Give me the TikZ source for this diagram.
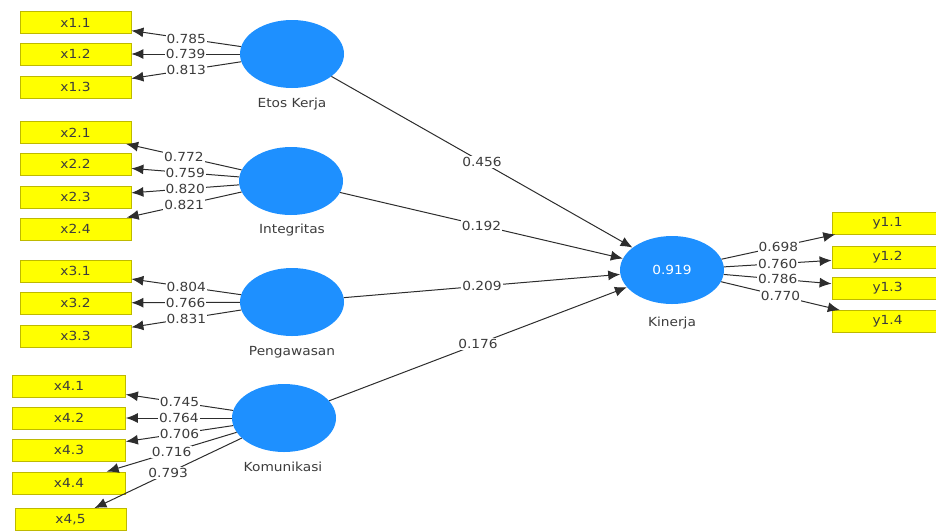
\documentclass[tikz,border=0pt]{standalone}
\usepackage{fontspec}
\setmainfont{DejaVu Sans}[FakeStretch=1.1]
\usetikzlibrary{shapes.geometric,arrows.meta}
\definecolor{lv}{RGB}{30,144,255}
\definecolor{ind}{RGB}{255,255,0}
\definecolor{indb}{RGB}{190,185,0}
\definecolor{ln}{RGB}{45,45,45}
\definecolor{tx}{RGB}{60,60,60}
\begin{document}
\begin{tikzpicture}[x=1pt,y=-1pt,
 lvar/.style={ellipse, fill=lv, draw=none, minimum width=104pt, minimum height=68pt, inner sep=0pt, text=white, font=\fontsize{12.5}{14}\selectfont},
 indic/.style={rectangle, fill=ind, draw=indb, line width=0.8pt, minimum width=111pt, minimum height=22pt, inner sep=0pt, text=tx, font=\fontsize{12.5}{14}\selectfont},
 lvlabel/.style={text=tx, font=\fontsize{12.5}{14}\selectfont},
 conn/.style={draw=ln, line width=1pt, -{Latex[length=12pt,width=10pt]}},
 coef/.style={fill=white, inner sep=1pt, text=tx, font=\fontsize{12.5}{14}\selectfont, pos=0.5}
]
\clip (0,0) rectangle (936,531);
% latent variables
\node[lvar] (EK) at (292,54) {};
\node[lvar] (IN) at (291,181) {};
\node[lvar] (PG) at (292,302) {};
\node[lvar] (KM) at (284,418) {};
\node[lvar] (KN) at (672,270) {0.919};
\node[lvlabel] (lEK) at (292,104) {Etos Kerja};
\node[lvlabel] (lIN) at (292,230) {Integritas};
\node[lvlabel] (lPG) at (292,352) {Pengawasan};
\node[lvlabel] (lKM) at (283,467) {Komunikasi};
\node[lvlabel] (lKN) at (672,323) {Kinerja};
% indicators
\node[indic] (x11) at (75.5,22.5) {x1.1};
\node[indic] (x12) at (75.5,54) {x1.2};
\node[indic] (x13) at (75.5,87) {x1.3};
\node[indic] (x21) at (75.5,132.5) {x2.1};
\node[indic] (x22) at (75.5,164) {x2.2};
\node[indic] (x23) at (75.5,197) {x2.3};
\node[indic] (x24) at (75.5,229) {x2.4};
\node[indic] (x31) at (75.5,271) {x3.1};
\node[indic] (x32) at (75.5,303) {x3.2};
\node[indic] (x33) at (75.5,336) {x3.3};
\node[indic, minimum width=113pt] (x41) at (69,386) {x4.1};
\node[indic, minimum width=113pt] (x42) at (69,418) {x4.2};
\node[indic, minimum width=113pt] (x43) at (69,450) {x4.3};
\node[indic, minimum width=113pt] (x44) at (69,483) {x4.4};
\node[indic, minimum width=111pt] (x45) at (70.5,519.5) {x4,5};
\node[indic] (y11) at (887.5,223) {y1.1};
\node[indic] (y12) at (887.5,257) {y1.2};
\node[indic] (y13) at (887.5,288.5) {y1.3};
\node[indic] (y14) at (887.5,321.5) {y1.4};
% loadings
\draw[conn] (EK) -- node[coef]{0.785} (x11);
\draw[conn] (EK) -- node[coef]{0.739} (x12);
\draw[conn] (EK) -- node[coef]{0.813} (x13);
\draw[conn] (IN) -- node[coef]{0.772} (x21);
\draw[conn] (IN) -- node[coef]{0.759} (x22);
\draw[conn] (IN) -- node[coef]{0.820} (x23);
\draw[conn] (IN) -- node[coef]{0.821} (x24);
\draw[conn] (PG) -- node[coef]{0.804} (x31);
\draw[conn] (PG) -- node[coef]{0.766} (x32);
\draw[conn] (PG) -- node[coef]{0.831} (x33);
\draw[conn] (KM) -- node[coef]{0.745} (x41);
\draw[conn] (KM) -- node[coef]{0.764} (x42);
\draw[conn] (KM) -- node[coef]{0.706} (x43);
\draw[conn] (KM) -- node[coef]{0.716} (x44);
\draw[conn] (KM) -- node[coef]{0.793} (x45);
\draw[conn] (KN) -- node[coef]{0.698} (y11);
\draw[conn] (KN) -- node[coef]{0.760} (y12);
\draw[conn] (KN) -- node[coef]{0.786} (y13);
\draw[conn] (KN) -- node[coef]{0.770} (y14);
% paths
\draw[conn] (EK) -- node[coef]{0.456} (KN);
\draw[conn] (IN) -- node[coef]{0.192} (KN);
\draw[conn] (PG) -- node[coef]{0.209} (KN);
\draw[conn] (KM) -- node[coef]{0.176} (KN);
\end{tikzpicture}
\end{document}
